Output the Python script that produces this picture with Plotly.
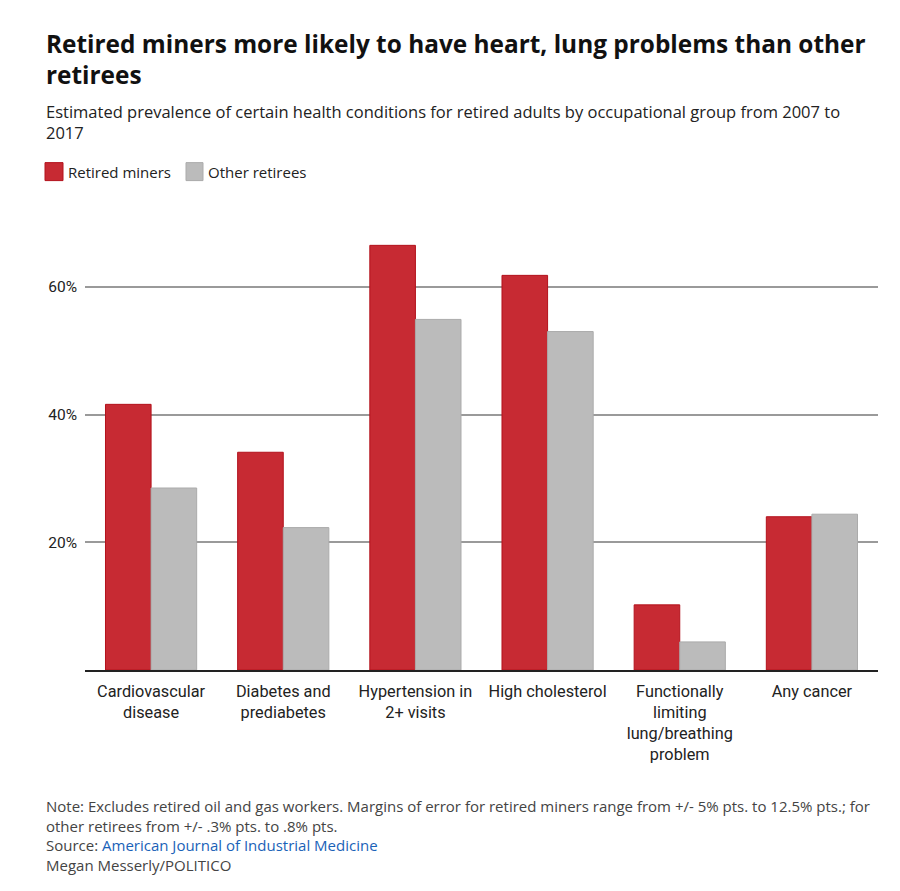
import plotly.graph_objects as go

categories = [
    "Cardiovascular<br>disease",
    "Diabetes and<br>prediabetes",
    "Hypertension in<br>2+ visits",
    "High cholesterol",
    "Functionally<br>limiting<br>lung/breathing<br>problem",
    "Any cancer",
]
retired_miners = [41.6, 34.1, 66.5, 61.8, 10.2, 24.0]
other_retirees = [28.5, 22.3, 54.9, 53.0, 4.4, 24.4]
tick_vals = [20, 40, 60]
tick_text = ["20%", "40%", "60%"]

FONT = "Open Sans, Noto Sans, sans-serif"
FONT_AX = "Roboto, Open Sans, sans-serif"
OFF = 8  # page body margin
W, H = 900 - OFF, 891 - OFF
L, R, T, B = 85 - OFF, 878 - OFF, 222.5 - OFF, 670.5 - OFF


def px(x):
    return (x - OFF - L) / (R - L)


def py(y):
    return (B - (y - OFF)) / (B - T)


RED, RED_EDGE = "#C72A33", "#B3121C"
GRAY, GRAY_EDGE = "#BBBBBB", "#ABABAB"

fig = go.Figure()
fig.add_trace(go.Bar(
    x=categories, y=retired_miners, name="Retired miners",
    marker=dict(color=RED, line=dict(color=RED_EDGE, width=1)),
    hoverinfo="y",
))
fig.add_trace(go.Bar(
    x=categories, y=other_retirees, name="Other retirees",
    marker=dict(color=GRAY, line=dict(color=GRAY_EDGE, width=1)),
    hoverinfo="y",
))

annotations = [
    dict(text="<b>Retired miners more likely to have heart, lung problems than other</b>",
         x=px(44), y=py(24), xanchor="left", yanchor="top", align="left",
         font=dict(size=24.4, color="#111111", family=FONT)),
    dict(text="<b>retirees</b>",
         x=px(44), y=py(55), xanchor="left", yanchor="top", align="left",
         font=dict(size=24.4, color="#111111", family=FONT)),
    dict(text="Estimated prevalence of certain health conditions for retired adults by occupational group from 2007 to<br>2017",
         x=px(44), y=py(97), xanchor="left", yanchor="top", align="left",
         font=dict(size=16.5, color="#222222", family=FONT)),
    dict(text="Retired miners", x=px(66), y=py(171), xanchor="left", yanchor="middle",
         font=dict(size=15, color="#222222", family=FONT)),
    dict(text="Other retirees", x=px(206), y=py(171), xanchor="left", yanchor="middle",
         font=dict(size=15, color="#222222", family=FONT)),
    dict(text=("Note: Excludes retired oil and gas workers. Margins of error for retired miners range from +/- 5% pts. to 12.5% pts.; for<br>"
               "other retirees from +/- .3% pts. to .8% pts.<br>"
               "Source: <span style='color:#1A62B8'>American Journal of Industrial Medicine</span><br>"
               "Megan Messerly/POLITICO"),
         x=px(44), y=py(795), xanchor="left", yanchor="top", align="left",
         font=dict(size=15, color="#444444", family=FONT)),
]
for a in annotations:
    a.update(xref="paper", yref="paper", showarrow=False)

shapes = [
    dict(type="rect", xref="paper", yref="paper", x0=px(45), x1=px(63), y0=py(180), y1=py(162),
         fillcolor=RED, line=dict(color=RED_EDGE, width=1)),
    dict(type="rect", xref="paper", yref="paper", x0=px(186), x1=px(203), y0=py(180), y1=py(162),
         fillcolor=GRAY, line=dict(color=GRAY_EDGE, width=1)),
]

fig.update_layout(
    width=W, height=H, autosize=False,
    margin=dict(l=L, r=W - R, t=T, b=H - B, pad=0),
    paper_bgcolor="white", plot_bgcolor="white",
    barmode="group", bargap=0.31, bargroupgap=0,
    showlegend=False,
    font=dict(family=FONT, size=16, color="#222222"),
    annotations=annotations, shapes=shapes,
    xaxis=dict(showgrid=False, showline=True, linecolor="#222222", linewidth=2,
               ticks="", ticklabelstandoff=5,
               tickfont=dict(size=16.3, color="#222222", family=FONT_AX), fixedrange=True),
    yaxis=dict(range=[0, 70], tickvals=tick_vals, ticktext=tick_text,
               showgrid=True, gridcolor="#9A9A9A", gridwidth=1.5,
               zeroline=False, showline=False, ticks="", ticklabelstandoff=7,
               tickfont=dict(size=15.5, color="#222222", family=FONT_AX), fixedrange=True),
)

fig.write_html("out.html")
